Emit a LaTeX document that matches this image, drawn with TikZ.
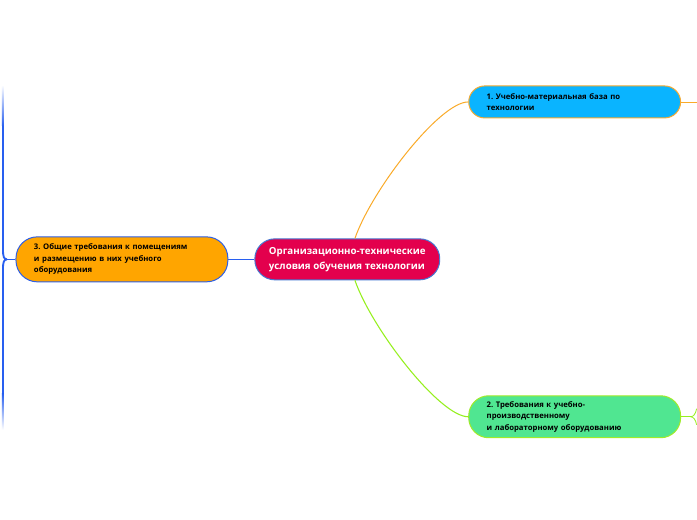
\documentclass[tikz,border=0pt]{standalone}
\usepackage{fontspec}
\setsansfont{Open Sans}
\frenchspacing

% Colori della mappa
\definecolor{centrefill}{RGB}{227,0,77}
\definecolor{centreborder}{RGB}{70,120,210}
\definecolor{leftfill}{RGB}{255,165,0}
\definecolor{leftborder}{RGB}{45,95,230}
\definecolor{topfill}{RGB}{10,180,255}
\definecolor{topborder}{RGB}{245,170,50}
\definecolor{botfill}{RGB}{80,230,145}
\definecolor{botborder}{RGB}{160,235,40}
\definecolor{blueline}{RGB}{40,95,240}
\definecolor{orangeline}{RGB}{250,170,40}
\definecolor{greenline}{RGB}{150,240,30}

\begin{document}
\begin{tikzpicture}[x=0.75pt, y=-0.75pt, font=\sffamily,
    centre/.style={draw=centreborder, fill=centrefill, text=white, line width=0.75pt,
        rounded corners=15pt, align=left, minimum width=138.75pt, inner xsep=4pt,
        minimum height=30.75pt, font=\sffamily\bfseries\fontsize{7.3}{11.2}\selectfont},
    topic/.style={line width=0.75pt, text=black, align=left, text width=132pt,
        inner xsep=13.5pt, font=\sffamily\bfseries\fontsize{5.8}{8.6}\selectfont},
    link/.style={line width=1.1pt}]

    % Sfondo e dimensioni della figura
    \path[fill=white] (0,0) rectangle (697,520);

    % Nodo centrale
    \node[centre] (centre) at (347.5,259.5)
        {Организационно-технические\\условия обучения технологии};

    % Rami principali
    \node[topic, draw=leftborder, fill=leftfill, rounded corners=16pt,
        minimum height=33.75pt] (rooms) at (122,259.5)
        {3. Общие требования к помещениям\\и размещению в них учебного\\оборудования};
    \node[topic, draw=topborder, fill=topfill, rounded corners=12pt,
        minimum height=24pt] (base) at (575,102)
        {1. Учебно-материальная база по\\технологии};
    \node[topic, draw=botborder, fill=botfill, rounded corners=15pt,
        minimum height=31.5pt] (equip) at (575,417)
        {2. Требования к учебно-\\производственному\\и лабораторному оборудованию};

    % Punti di uscita verso i rami nascosti
    \coordinate (base out) at (697,102);
    \coordinate (equip fork) at (691,417);
    \coordinate (rooms fork) at (7,259.5);

    % Collegamenti dal centro
    \draw[link, blueline] (centre.west) -- (rooms.east);
    \draw[link, orangeline, line width=0.75pt] (centre.70)
        .. controls (372,190) and (440,102) .. (base.west);
    \draw[link, greenline, line width=0.8pt] (centre.-70)
        .. controls (372,329) and (440,417) .. (equip.west);

    % Collegamenti verso destra
    \draw[link, orangeline, line width=0.6pt] (base.east) -- (base out);
    \draw[link, greenline, line width=0.6pt] (equip.east) -- (equip fork);
    \draw[link, greenline, line width=0.6pt] (equip fork)
        .. controls (694,417) and (696,414) .. (697,409);
    \draw[link, greenline, line width=0.6pt] (equip fork)
        .. controls (694,417) and (696,420) .. (697,425);

    % Collegamenti verso sinistra
    \draw[link, blueline] (rooms.west) -- (rooms fork);
    \draw[link, blueline, line width=1.4pt] (rooms fork)
        .. controls (4,259.5) and (3,257) .. (3,250) -- (3,125);
    \draw[link, blueline, line width=1.4pt] (rooms fork)
        .. controls (4,259.5) and (3,262) .. (3,269) -- (3,395);
    \shade[top color=white, bottom color=blueline] (2,85) rectangle (4,126);
    \shade[top color=blueline, bottom color=white] (2,394) rectangle (4,430);

\end{tikzpicture}
\end{document}
